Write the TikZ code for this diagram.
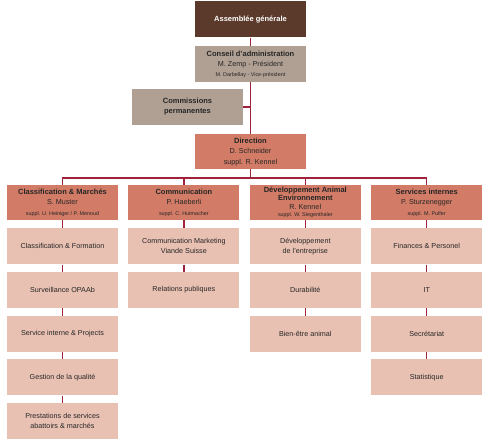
\documentclass[tikz,border=0pt]{standalone}
\usepackage{fontspec}
\setmainfont{Liberation Sans}
\usetikzlibrary{positioning}

\definecolor{brun}{HTML}{5B3A2B}
\definecolor{taupe}{HTML}{B0A093}
\definecolor{saumon}{HTML}{D27B66}
\definecolor{rose}{HTML}{E9C1B3}
\definecolor{lien}{HTML}{9E2239}

\newcommand{\titre}[1]{{\fontsize{7.5}{9}\selectfont\bfseries #1}}
\newcommand{\petit}[1]{{\fontsize{5.4}{6.5}\selectfont #1}}

\tikzset{
  box/.style={minimum width=111pt,minimum height=36pt,inner sep=1pt,
    align=center,text=black!85,font=\fontsize{7.2}{10}\selectfont},
  top/.style={box,fill=brun,text=white},
  conseil/.style={box,fill=taupe},
  head/.style={box,fill=saumon,minimum height=35pt},
  sub/.style={box,fill=rose},
  conn/.style={draw=lien,line width=1.2pt}
}

\begin{document}
\begin{tikzpicture}[x=1pt,y=1pt]
\useasboundingbox (0,0) rectangle (496,-443);

\node[top] (ag) at (250.5,-19.5) {\titre{Assemblée générale}};
\node[conseil] (ca) [below=8pt of ag] {\titre{Conseil d'administration}\\
  M. Zemp - Président\\ \petit{M. Darbellay - Vice-président}};
\node[conseil] (cp) at (187.5,-107) {\titre{Commissions}\\ \titre{permanentes}};
\node[head] (dir) [below=52pt of ca] {\titre{Direction}\\[0.5pt]
  D. Schneider\\[0.5pt] suppl. R. Kennel};

% departements
\node[head] (h1) at (62.5,-202.5) {\titre{Classification \& Marchés}\\[0.5pt]
  S. Muster\\[0.5pt] \petit{suppl. U. Heiniger / P. Menoud}};
\node[head] (h2) [right=10pt of h1] {\titre{Communication}\\[0.5pt]
  P. Haeberli\\[0.5pt] \petit{suppl. C. Hutmacher}};
\node[head] (h3) [right=10pt of h2] {\titre{Développement Animal}\\[-2pt]
  \titre{Environnement}\\[-1pt] R. Kennel\\[-3pt] \petit{suppl. W. Siegenthaler}};
\node[head] (h4) [right=10pt of h3] {\titre{Services internes}\\[0.5pt]
  P. Sturzenegger\\[0.5pt] \petit{suppl. M. Pulfer}};

% services
\node[sub] (s11) [below=8pt of h1] {Classification \& Formation};
\node[sub] (s12) [below=7.3pt of s11] {Surveillance OPAAb};
\node[sub] (s13) [below=7.3pt of s12] {Service interne \& Projects};
\node[sub] (s14) [below=7.3pt of s13] {Gestion de la qualité};
\node[sub] (s15) [below=7.3pt of s14] {Prestations de services\\ abattoirs \& marchés};

\node[sub] (s21) [below=8pt of h2] {Communication Marketing\\ Viande Suisse};
\node[sub] (s22) [below=7.3pt of s21] {Relations publiques};

\node[sub] (s31) [below=8pt of h3] {Développement\\ de l'entreprise};
\node[sub] (s32) [below=7.3pt of s31] {Durabilité};
\node[sub] (s33) [below=7.3pt of s32] {Bien-être animal};

\node[sub] (s41) [below=8pt of h4] {Finances \& Personel};
\node[sub] (s42) [below=7.3pt of s41] {IT};
\node[sub] (s43) [below=7.3pt of s42] {Secrétariat};
\node[sub] (s44) [below=7.3pt of s43] {Statistique};

% liens
\coordinate (bus) at (250.5,-178);
\draw[conn] (ag) -- (ca);
\draw[conn] (ca) -- (dir);
\draw[conn] (cp.east) -- (cp.east -| ca.south);
\draw[conn] (dir) -- (bus);
\draw[conn] (h1.north) |- (bus) -| (h4.north);
\draw[conn] (h2.north) -- (h2.north |- bus);
\draw[conn] (h3.north) -- (h3.north |- bus);
\draw[conn] (h1) -- (s11) (s11) -- (s12) (s12) -- (s13) (s13) -- (s14) (s14) -- (s15);
\draw[conn] (h2) -- (s21) (s21) -- (s22);
\draw[conn] (h3) -- (s31) (s31) -- (s32) (s32) -- (s33);
\draw[conn] (h4) -- (s41) (s41) -- (s42) (s42) -- (s43) (s43) -- (s44);
\end{tikzpicture}
\end{document}
